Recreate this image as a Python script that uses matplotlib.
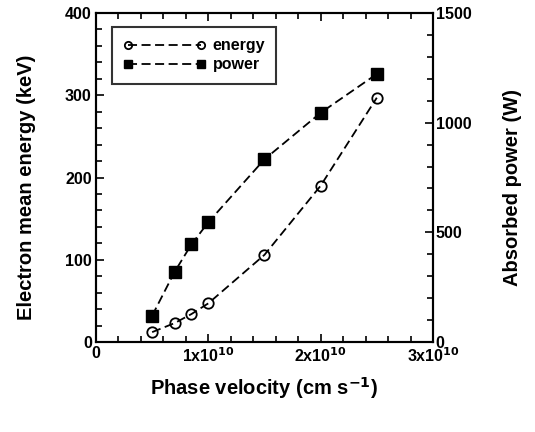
import numpy as np
import matplotlib.pyplot as plt
from matplotlib.ticker import MultipleLocator, FixedLocator

plt.rcParams['font.family'] = ['Liberation Sans', 'DejaVu Sans']
plt.rcParams['font.weight'] = 'bold'
plt.rcParams['mathtext.default'] = 'bf'

# phase velocity (cm/s)
velocity = [5e9, 7e9, 8.5e9, 1e10, 1.5e10, 2e10, 2.5e10]
# electron mean energy (keV)
energy = [12, 23, 34, 47, 106, 190, 297]
# absorbed power (W)
power = [120, 320, 445, 546, 833, 1045, 1222]

xtick_vals = [0, 1e10, 2e10, 3e10]
xtick_labels = ['0', r'1x10$^{10}$', r'2x10$^{10}$', r'3x10$^{10}$']

fig = plt.figure(figsize=(5.35, 4.32), dpi=100)
ax = fig.add_axes([0.1794, 0.2083, 0.6299, 0.7616])
ax2 = ax.twinx()

l1, = ax.plot(velocity, energy, color='black', ls=(0, (5, 2.5)), lw=1.3,
              marker='o', ms=7.5, mfc='none', mec='black', mew=1.3, label='energy')
l2, = ax2.plot(velocity, power, color='black', ls=(0, (5, 2.5)), lw=1.3,
               marker='s', ms=9, mfc='black', mec='black', label='power')

ax.set_xlim(0, 3e10)
ax.set_ylim(0, 400)
ax2.set_ylim(0, 1500)

ax.xaxis.set_major_locator(FixedLocator(xtick_vals))
ax.set_xticklabels(xtick_labels)
ax.xaxis.set_minor_locator(MultipleLocator(2e9))
ax.yaxis.set_major_locator(MultipleLocator(100))
ax.yaxis.set_minor_locator(MultipleLocator(20))
ax2.yaxis.set_major_locator(MultipleLocator(500))
ax2.yaxis.set_minor_locator(MultipleLocator(100))

for a in (ax, ax2):
    for s in a.spines.values():
        s.set_linewidth(1.5)
    a.tick_params(which='both', direction='in', width=1.2, labelsize=11.5)
    a.tick_params(which='major', length=6)
    a.tick_params(which='minor', length=4)
ax.tick_params(which='both', top=True, right=False)
ax.tick_params(axis='x', pad=3)
ax.tick_params(axis='y', pad=3)
ax2.tick_params(axis='y', pad=2)

ax.set_xlabel(r'Phase velocity (cm s$^{-1}$)', fontsize=14.5, fontweight='bold', labelpad=7)
ax.set_ylabel('Electron mean energy (keV)', fontsize=14.5, fontweight='bold')
ax2.set_ylabel('Absorbed power (W)', fontsize=14.5, fontweight='bold')
ax.yaxis.set_label_coords(-0.178, 0.471)
ax2.yaxis.set_label_coords(1.208, 0.471)

leg = ax.legend(handles=[l1, l2], loc='upper left', bbox_to_anchor=(0.047, 0.957),
                borderaxespad=0, fontsize=11.5, frameon=True, fancybox=False,
                edgecolor='black', numpoints=2, markerscale=0.7,
                handlelength=5.2, borderpad=0.7, labelspacing=0.25, handletextpad=0.4)
leg.get_frame().set_linewidth(1.5)

fig.savefig('out.png', dpi=100)
